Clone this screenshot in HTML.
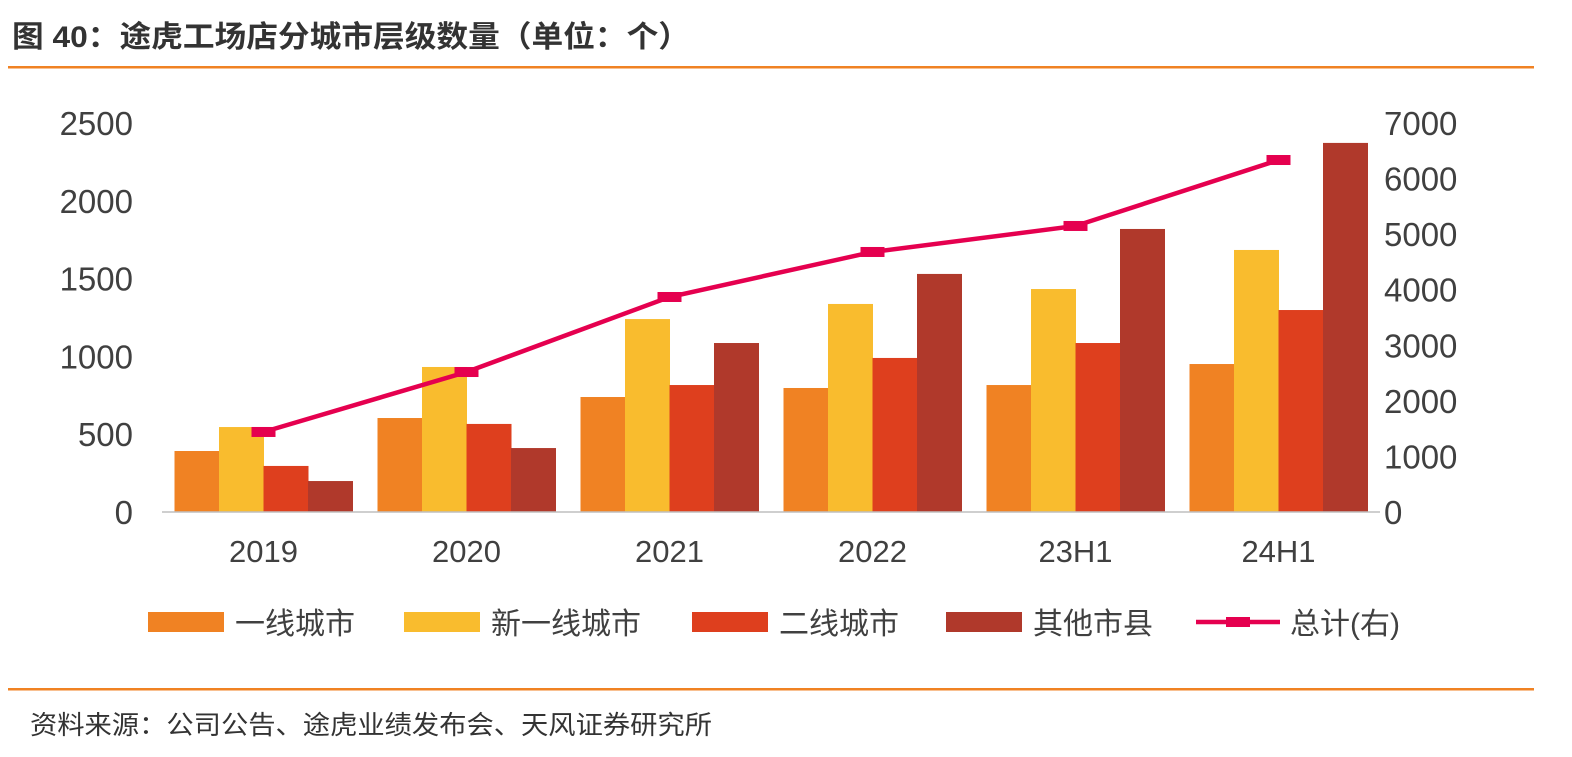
<!DOCTYPE html>
<html><head><meta charset="utf-8"><style>
body{margin:0;background:#fff;width:1572px;height:752px;overflow:hidden;font-family:"Liberation Sans","Noto Sans CJK SC",sans-serif;}
</style></head><body>
<svg width="1572" height="752" xmlns="http://www.w3.org/2000/svg" id="svg">
<text x="12" y="47" font-size="30" font-weight="bold" fill="#333" textLength="678" lengthAdjust="spacingAndGlyphs">图 40：途虎工场店分城市层级数量（单位：个）</text>
<rect x="8" y="66" width="1526" height="2.5" fill="#F08223"/>
<rect x="8" y="688" width="1526" height="2.5" fill="#F08223"/>
<text x="30" y="734" font-size="26" fill="#333" textLength="682" lengthAdjust="spacingAndGlyphs">资料来源：公司公告、途虎业绩发布会、天风证券研究所</text>
<g id="plot"></g>
</svg>
<script>
const categories=["2019","2020","2021","2022","23H1","24H1"];
const tier1=[392,604,739,797,816,951];
const newTier1=[546,932,1240,1337,1433,1684];
const tier2=[296,566,816,990,1086,1298];
const others=[199,411,1086,1530,1819,2372];
const total=[1440,2519,3869,4679,5147,6334];
const leftTicks=[0,500,1000,1500,2000,2500];
const rightTicks=[0,1000,2000,3000,4000,5000,6000,7000];
const seriesNames=["一线城市","新一线城市","二线城市","其他市县","总计(右)"];
const NS="http://www.w3.org/2000/svg";
const g=document.getElementById('plot');
const x0=162,x1=1380,y0=512,yTop=123;
const yL=v=>y0-(v/2500)*(y0-yTop);
const yR=v=>y0-(v/7000)*(y0-yTop);
const gw=(x1-x0)/categories.length;
const xc=i=>x0+gw*(i+0.5);
function el(t,a,txt){const e=document.createElementNS(NS,t);for(const k in a)e.setAttribute(k,a[k]);if(txt!==undefined)e.textContent=txt;g.appendChild(e);return e;}
leftTicks.forEach(v=>{const t=el('text',{x:133,y:yL(v)+12,'font-size':33,fill:'#404040','text-anchor':'end'},String(v));

});
rightTicks.forEach(v=>{const t=el('text',{x:1384,y:yR(v)+12,'font-size':33,fill:'#404040'},String(v));

});
const series=[tier1,newTier1,tier2,others];
const colors=["#F08223","#F9BC2E","#DE3F1E","#B0392B"];
const bw=44.5;
categories.forEach((c,i)=>{
  const start=xc(i)-2*bw;
  series.forEach((s,j)=>{const r=el('rect',{x:start+j*bw,y:yL(s[i]),width:bw+0.5,height:y0-yL(s[i]),fill:colors[j]});
  
  });
  const t=el('text',{x:xc(i),y:562,'font-size':31,fill:'#404040','text-anchor':'middle'},c);
  
  
});
const ax=el('line',{x1:x0,y1:y0,x2:x1,y2:y0,stroke:'#bfbfbf','stroke-width':1.5});


const pl=el('polyline',{points:total.map((v,i)=>xc(i)+','+yR(v)).join(' '),fill:'none',stroke:'#E5004F','stroke-width':4.5});


total.forEach((v,i)=>{const m=el('rect',{x:xc(i)-12,y:yR(v)-5,width:24,height:10,fill:'#E5004F'});

});
const lx=[148,404,692,946];
for(let j=0;j<4;j++){
  const r=el('rect',{x:lx[j],y:612,width:76,height:20,fill:colors[j]});
  
  
  const t=el('text',{x:lx[j]+87,y:634,'font-size':30,fill:'#404040'},seriesNames[j]);
  
  
}
const ll=el('line',{x1:1196,y1:622,x2:1280,y2:622,stroke:'#E5004F','stroke-width':4.5});


const lm=el('rect',{x:1226,y:617,width:24,height:10,fill:'#E5004F'});


const lt=el('text',{x:1290,y:634,'font-size':30,fill:'#404040'},seriesNames[4]);


</script>
</body></html>
